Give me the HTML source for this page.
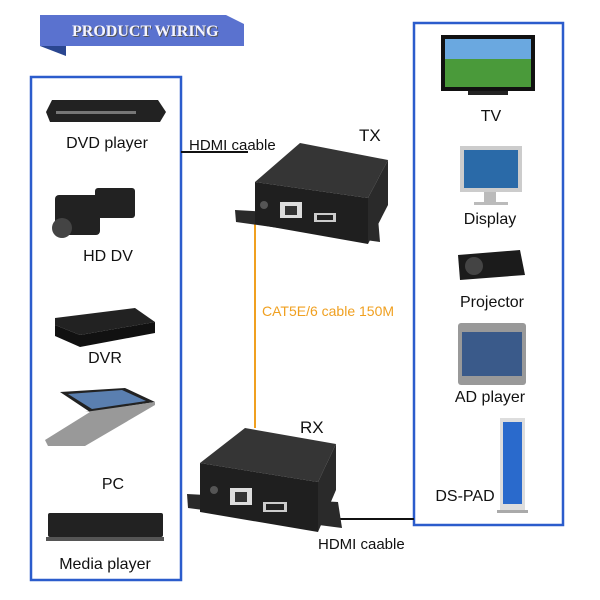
<!DOCTYPE html>
<html><head><style>
body{margin:0;background:#fff;}
svg{display:block;font-family:"Liberation Sans",sans-serif;}
</style></head><body>
<svg width="600" height="600" viewBox="0 0 600 600" xmlns="http://www.w3.org/2000/svg">
<rect width="600" height="600" fill="#fff"/>
<!-- banner -->
<polygon points="40,15 244,15 244,46 40,46" fill="#5a72cf"/>
<polygon points="226,15 244,15 244,24" fill="#fff"/>
<polygon points="40,46 66,46 66,56" fill="#2a4690"/>
<text x="73" y="37" font-family="Liberation Serif,serif" font-size="16" font-weight="bold" fill="#555">PRODUCT WIRING</text>
<text x="72" y="36" font-family="Liberation Serif,serif" font-size="16" font-weight="bold" fill="#f4f4ff">PRODUCT WIRING</text>
<!-- boxes -->
<rect x="31" y="77" width="150" height="503" fill="none" stroke="#2b5ccc" stroke-width="2.5"/>
<rect x="414" y="23" width="149" height="502" fill="none" stroke="#2b5ccc" stroke-width="2.5"/>
<!-- cables -->
<line x1="181" y1="152" x2="248" y2="152" stroke="#111" stroke-width="2"/>
<line x1="255" y1="215" x2="255" y2="428" stroke="#f0a020" stroke-width="2"/>
<line x1="330" y1="519" x2="414" y2="519" stroke="#111" stroke-width="2"/>
<!-- TX -->
<g>
<polygon points="235,210 378,218 380,242 236,222" fill="#2a2a2a"/>
<polygon points="255,182 300,143 388,160 368,198" fill="#353535"/>
<polygon points="255,182 368,198 368,244 255,224" fill="#1f1f1f"/>
<polygon points="368,198 388,160 388,205 368,244" fill="#2a2a2a"/>
<rect x="280" y="202" width="22" height="16" fill="#ddd"/><rect x="285" y="206" width="12" height="9" fill="#333"/>
<rect x="314" y="213" width="22" height="9" fill="#ccc"/><rect x="317" y="215" width="16" height="5" fill="#222"/>
<circle cx="264" cy="205" r="4" fill="#555"/>
</g>
<!-- RX -->
<g>
<polygon points="187,494 338,502 342,528 188,508" fill="#2a2a2a"/>
<polygon points="200,463 245,428 336,444 318,482" fill="#353535"/>
<polygon points="200,463 318,482 318,532 200,512" fill="#1f1f1f"/>
<polygon points="318,482 336,444 336,490 318,532" fill="#2a2a2a"/>
<rect x="230" y="488" width="22" height="17" fill="#ddd"/><rect x="235" y="492" width="12" height="10" fill="#333"/>
<rect x="263" y="502" width="24" height="10" fill="#ccc"/><rect x="266" y="504" width="18" height="6" fill="#222"/>
<circle cx="214" cy="490" r="4" fill="#555"/>
</g>
<g font-size="15" fill="#111">
<text x="189" y="150">HDMI caable</text>
<text x="359" y="141" font-size="17">TX</text>
<text x="300" y="433" font-size="17">RX</text>
<text x="318" y="549">HDMI caable</text>
<text x="262" y="316" fill="#f0a020" font-size="14">CAT5E/6 cable 150M</text>
</g>
<!-- left devices -->
<g fill="#222">
<polygon points="52,100 158,100 166,112 160,122 50,122 46,112"/><rect x="56" y="111" width="80" height="3" fill="#777"/>
<rect x="55" y="195" width="45" height="40" rx="4"/><rect x="95" y="188" width="40" height="30" rx="3"/><circle cx="62" cy="228" r="10" fill="#444"/>
<polygon points="55,318 135,308 155,322 80,335 55,325"/><polygon points="55,325 80,335 155,322 155,333 80,347 55,336" fill="#111"/>
<polygon points="60,392 125,388 155,402 90,412"/><polygon points="85,412 155,402 155,405 85,446 48,446 45,440 90,412" fill="#999"/><polygon points="68,394 122,390 146,401 92,409" fill="#5a7fb0"/>
<rect x="48" y="513" width="115" height="24" rx="2"/><rect x="46" y="537" width="118" height="4" fill="#555"/>
</g>
<g font-size="16" fill="#111" text-anchor="middle">
<text x="107" y="148">DVD player</text>
<text x="108" y="261">HD DV</text>
<text x="105" y="363">DVR</text>
<text x="113" y="489">PC</text>
<text x="105" y="569">Media  player</text>
</g>
<!-- right devices -->
<g>
<rect x="441" y="35" width="94" height="56" fill="#111"/><rect x="445" y="39" width="86" height="48" fill="#4a9a3a"/><rect x="445" y="39" width="86" height="20" fill="#6aa8e0"/><rect x="468" y="91" width="40" height="4" fill="#222"/>
<rect x="460" y="146" width="62" height="46" fill="#ccc"/><rect x="464" y="150" width="54" height="38" fill="#2a6aa8"/><rect x="484" y="192" width="12" height="10" fill="#bbb"/><rect x="474" y="202" width="34" height="3" fill="#bbb"/>
<polygon points="458,255 520,250 525,275 460,280" fill="#1b1b1b"/><circle cx="474" cy="266" r="9" fill="#444"/>
<rect x="458" y="323" width="68" height="62" fill="#999" rx="3"/><rect x="462" y="332" width="60" height="44" fill="#3a5a8a"/>
<rect x="500" y="418" width="25" height="94" fill="#ddd"/><rect x="503" y="422" width="19" height="82" fill="#2a6acc"/><rect x="497" y="510" width="31" height="3" fill="#aaa"/>
</g>
<g font-size="16" fill="#111" text-anchor="middle">
<text x="491" y="121">TV</text>
<text x="490" y="224">Display</text>
<text x="492" y="307">Projector</text>
<text x="490" y="402">AD player</text>
<text x="465" y="501">DS-PAD</text>
</g>
</svg>
</body></html>
